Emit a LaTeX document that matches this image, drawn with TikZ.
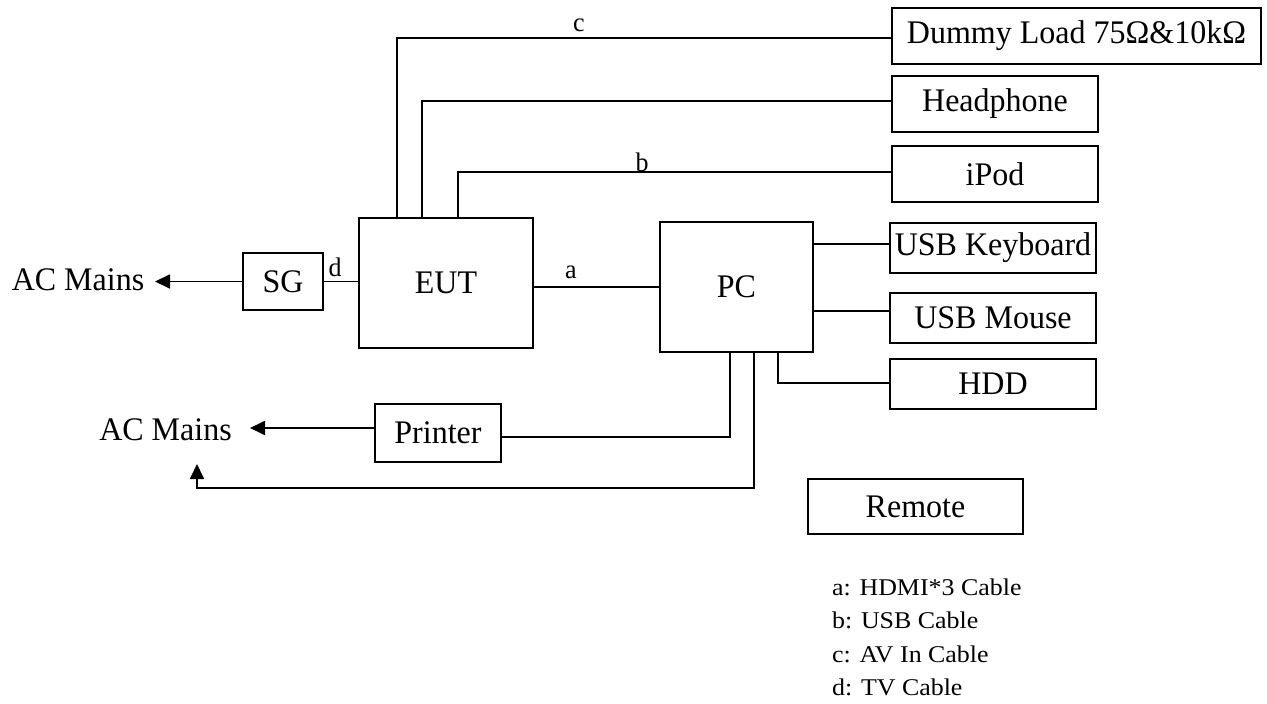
\documentclass[tikz,border=0pt]{standalone}
\usepackage{fontspec}
\setmainfont{Liberation Serif}
\usepackage{graphicx}
\usetikzlibrary{arrows.meta}
\newcommand{\vs}[1]{\scalebox{1}[1.03]{#1}}
\newcommand{\lvs}[1]{\scalebox{1}[1.03]{#1}}
\newcommand{\gvs}[1]{\scalebox{1.08}[1]{#1}}
\tikzset{
  box/.style={draw, line width=1.8pt, inner sep=0pt, font=\fontsize{32}{36}\selectfont},
  wire/.style={line width=1.8pt},
  arr/.style={line width=1.8pt, -{Triangle[length=15pt,width=14pt]}},
  lab/.style={inner sep=0pt, font=\fontsize{26}{30}\selectfont},
  leg/.style={inner sep=0pt, anchor=base west, font=\fontsize{24}{28}\selectfont},
  big/.style={inner sep=0pt, font=\fontsize{32}{36}\selectfont}
}
\begin{document}
\begin{tikzpicture}[x=1pt,y=-1pt]
\useasboundingbox (0,0) rectangle (1267,704);
% boxes
\node[box, minimum width=369pt, minimum height=56pt] (dummy) at (1076.5,36) {\vs{Dummy Load 75Ω\&10kΩ}};
\node[box, minimum width=206pt, minimum height=56pt] (head) at (995,104) {\vs{Headphone}};
\node[box, minimum width=206pt, minimum height=56pt] (ipod) at (995,174) {\vs{iPod}};
\node[box, minimum width=206pt, minimum height=50pt] (kb) at (993,248) {\vs{USB Keyboard}};
\node[box, minimum width=206pt, minimum height=50pt] (mouse) at (993,318) {\vs{USB Mouse}};
\node[box, minimum width=206pt, minimum height=50pt] (hdd) at (993,384) {\vs{HDD}};
\node[box, minimum width=215pt, minimum height=55pt] (remote) at (915.5,506.5) {\vs{Remote}};
\node[box, minimum width=80pt, minimum height=57pt] (SG) at (283,281.5) {\vs{SG}};
\node[box, minimum width=174pt, minimum height=130pt] (EUT) at (446,283) {\vs{EUT}};
\node[box, minimum width=153pt, minimum height=130pt] (PC) at (736.5,287) {\vs{PC}};
\node[box, minimum width=126pt, minimum height=58pt] (printer) at (438,433) {\vs{Printer}};
\node[big] (ac1) at (78,280) {\vs{AC Mains}};
\node[big] (ac2) at (165.5,430) {\vs{AC Mains}};
% free ends
\coordinate (t1) at (155,281.5);
\coordinate (t4) at (250,428);
\coordinate (c2) at (197,488);
\coordinate (t3) at (197,464);
% connectors
\draw[arr] (SG.west) -- (t1);
\draw[wire] (SG.east) -- (SG.east -| EUT.west);
\draw[wire] (EUT.east |- PC.west) -- (PC.west);
\draw[wire] ([xshift=-49pt]EUT.north) |- ([yshift=-2pt]dummy.west);
\draw[wire] ([xshift=-24pt]EUT.north) |- ([yshift=3pt]head.west);
\draw[wire] ([xshift=12pt]EUT.north) |- ([yshift=2pt]ipod.west);
\draw[wire] ([yshift=4pt]kb.west) -- ([yshift=4pt]kb.west -| PC.east);
\draw[wire] ([yshift=7pt]mouse.west) -- ([yshift=7pt]mouse.west -| PC.east);
\draw[wire] ([xshift=41.5pt]PC.south) |- ([yshift=1pt]hdd.west);
\draw[wire] ([xshift=-6.5pt]PC.south) |- ([yshift=-4pt]printer.east);
\draw[arr] ([xshift=17.5pt]PC.south) |- (c2) -- (t3);
\draw[arr] ([yshift=5pt]printer.west) -- (t4);
% cable labels
\node[lab] (la) at (571,272) {\lvs{a}};
\node[lab] (lb) at (642,162) {\lvs{b}};
\node[lab] (lc) at (579,25) {\lvs{c}};
\node[lab] (ld) at (335,267) {\lvs{d}};
% legend
\node[leg] (g1) at (832,595) {\gvs{a: HDMI*3 Cable}};
\node[leg] (g2) at (832,628) {\gvs{b: USB Cable}};
\node[leg] (g3) at (832,662) {\gvs{c: AV In Cable}};
\node[leg] (g4) at (832,695) {\gvs{d: TV Cable}};
\end{tikzpicture}
\end{document}
